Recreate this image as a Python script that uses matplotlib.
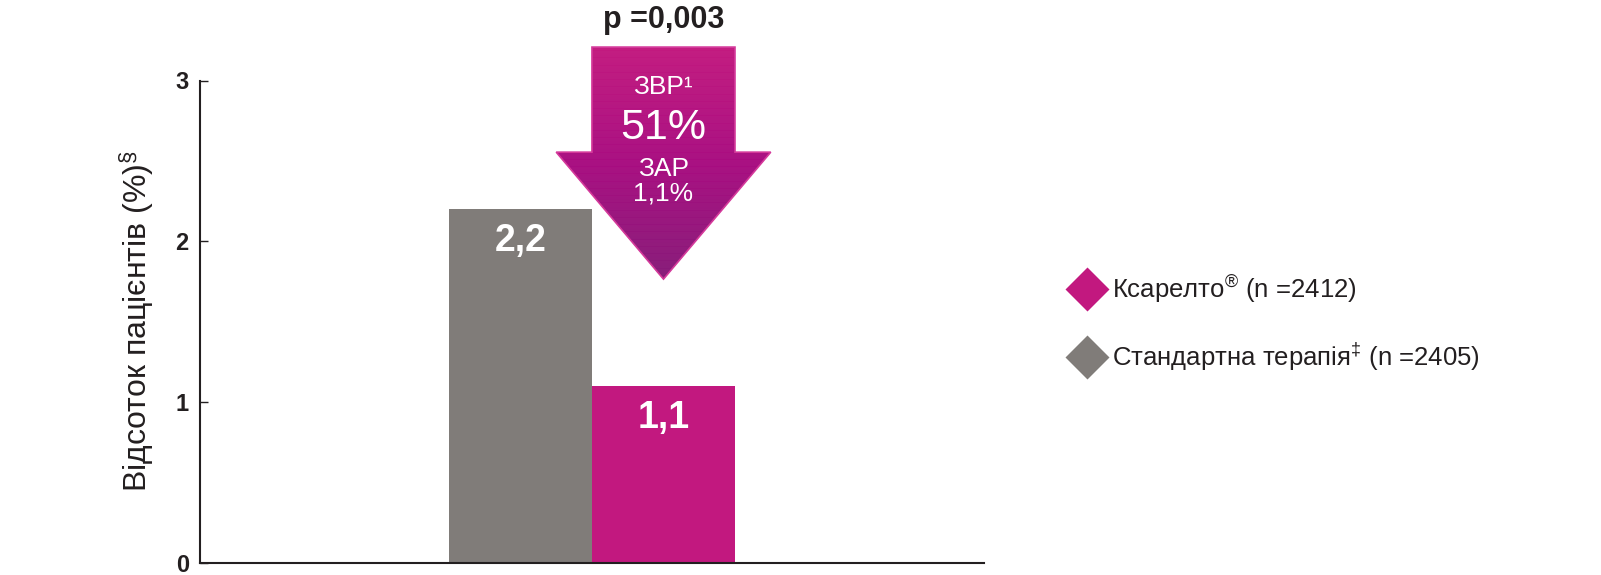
import numpy as np
import matplotlib
matplotlib.use("Agg")
from matplotlib import pyplot as plt
from matplotlib.patches import Polygon
from matplotlib.collections import PolyCollection
from matplotlib.lines import Line2D
from matplotlib.colors import LinearSegmentedColormap

plt.rcParams['font.family'] = ['Liberation Sans', 'DejaVu Sans']
plt.rcParams['mathtext.fontset'] = 'custom'
plt.rcParams['mathtext.rm'] = 'Liberation Sans'
plt.rcParams['mathtext.default'] = 'regular'

# data
groups = ["Стандартна терапія", "Ксарелто"]
values = [2.2, 1.1]
value_labels = ["2,2", "1,1"]
colors = ["#807c79", "#c2187f"]
legend_labels = ["Ксарелто$^{®}$ (n =2412)", "Стандартна терапія$^{‡}$ (n =2405)"]
yticks = [0, 1, 2, 3]
p_text = "p =0,003"
arrow_lines = ["ЗВР¹", "51%", "ЗАР", "1,1%"]

dark = "#231f20"

fig = plt.figure(figsize=(16.01, 5.75), dpi=100)
ax = fig.add_axes([0.1249, 0.0217, 0.4897, 0.8383])

x = np.arange(len(values))
ax.bar(x, values, width=1.0, color=colors, zorder=2)
for xi, v, lab in zip(x, values, value_labels):
    ax.text(xi, v - 0.2, lab, ha="center", va="center", color="white",
            fontsize=27, fontweight="bold", zorder=4)

# arrow with gradient fill over the Ксарелто bar
cx = x[1]
shaft_w, head_w = 0.5, 0.75
top, base, tip = 3.208, 2.554, 1.764
pts = [(cx - shaft_w, top), (cx + shaft_w, top), (cx + shaft_w, base),
       (cx + head_w, base), (cx, tip), (cx - head_w, base), (cx - shaft_w, base)]
arrow = Polygon(pts, closed=True, facecolor="none", edgecolor="#d4399a",
                linewidth=1.2, clip_on=False, zorder=3)
ax.add_patch(arrow)

cmap = LinearSegmentedColormap.from_list("arr", ["#c2197f", "#a80c80", "#861a78"])
n = 200
edges = np.linspace(top, tip, n + 1)
strips = [[(cx - head_w, edges[i]), (cx + head_w, edges[i]),
           (cx + head_w, edges[i + 1]), (cx - head_w, edges[i + 1])] for i in range(n)]
strip_cols = cmap(np.linspace(0, 1, n))
grad = PolyCollection(strips, facecolors=strip_cols, edgecolors=strip_cols,
                      linewidths=0.5, zorder=2.5)
ax.add_collection(grad)
grad.set_clip_path(arrow)
grad.set_clip_box(None)

ax.text(cx, 2.959, arrow_lines[0], ha="center", va="center", color="white", fontsize=19, zorder=4)
ax.text(cx, 2.705, arrow_lines[1], ha="center", va="center", color="white", fontsize=31, zorder=4)
ax.text(cx, 2.45, arrow_lines[2], ha="center", va="center", color="white", fontsize=19, zorder=4)
ax.text(cx, 2.296, arrow_lines[3], ha="center", va="center", color="white", fontsize=19, zorder=4)
ax.text(cx, 3.375, p_text, ha="center", va="center", color=dark, fontsize=22,
        fontweight="bold", clip_on=False)

ax.set_xlim(-2.241, 3.241)
ax.set_ylim(0, 3)
ax.set_xticks([])
ax.set_yticks(yticks)
ax.set_yticklabels([str(t) for t in yticks], fontsize=17, fontweight="bold", color=dark)
ax.tick_params(axis="y", direction="in", length=5.8, width=1.0, color=dark, pad=8)
for s in ["top", "right"]:
    ax.spines[s].set_visible(False)
for s in ["left", "bottom"]:
    ax.spines[s].set_linewidth(1.5)
    ax.spines[s].set_color(dark)

ax.set_ylabel("Відсоток пацієнтів (%)$^{§}$", fontsize=23, color=dark)
ax.yaxis.set_label_coords(-0.056, 0.5)

handles = [Line2D([], [], linestyle="none", marker="D", markersize=22,
                  markerfacecolor=colors[1], markeredgecolor="none"),
           Line2D([], [], linestyle="none", marker="D", markersize=22,
                  markerfacecolor=colors[0], markeredgecolor="none")]
fig.legend(handles, legend_labels, loc="center left", bbox_to_anchor=(1070 / 1601, 0.438),
           frameon=False, fontsize=18.5, handlelength=1.3, handletextpad=0.35,
           labelspacing=1.35, borderpad=0, borderaxespad=0, labelcolor=dark)

fig.savefig("out.png", dpi=100)
